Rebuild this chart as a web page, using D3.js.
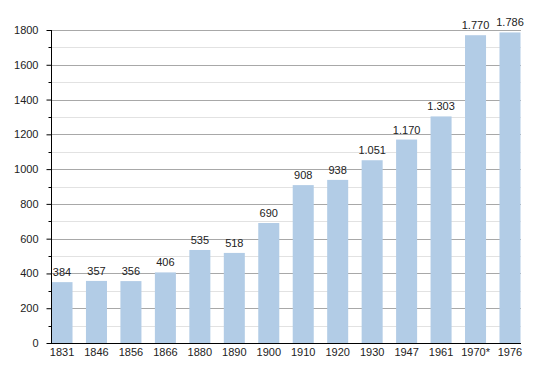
<!DOCTYPE html>
<html>
<head>
<meta charset="utf-8">
<script src="https://cdn.jsdelivr.net/npm/d3@7"></script>
<style>
  body { margin: 0; background: #fff; }
  text { font-family: "Liberation Sans", Arial, sans-serif; fill: #222; }
</style>
</head>
<body>
<div id="chart-container"></div>
<script>
const years = ["1831", "1846", "1856", "1866", "1880", "1890", "1900", "1910", "1920", "1930", "1947", "1961", "1970*", "1976"];
// bar heights as drawn (first bar is drawn lower than its label says)
const barValues = [350, 357, 356, 406, 535, 518, 690, 908, 938, 1051, 1170, 1303, 1770, 1786];
const valueLabels = ["384", "357", "356", "406", "535", "518", "690", "908", "938", "1.051", "1.170", "1.303", "1.770", "1.786"];
const majorTicks = [0, 200, 400, 600, 800, 1000, 1200, 1400, 1600, 1800];
const minorTicks = [100, 300, 500, 700, 900, 1100, 1300, 1500, 1700];

const svgWidth = 550;
const svgHeight = 373;

const svg = d3.select("#chart-container")
    .append("svg")
    .attr("width", svgWidth)
    .attr("height", svgHeight);

const scaleY = d3.scaleLinear()
    .domain([0, 1800])
    .range([343, 30]);

const scaleX = d3.scaleBand()
    .domain(years)
    .range([51.5, 520.5])
    .paddingInner(0.39)
    .paddingOuter(0);

const left = 51, right = 521;

// minor grid
svg.append("g").selectAll("line")
    .data(minorTicks)
    .enter().append("line")
    .attr("x1", left).attr("x2", right)
    .attr("y1", d => Math.round(scaleY(d)) + 0.5)
    .attr("y2", d => Math.round(scaleY(d)) + 0.5)
    .attr("stroke", "#e2e2e2");

// major grid
svg.append("g").selectAll("line")
    .data(majorTicks.filter(d => d > 0))
    .enter().append("line")
    .attr("x1", left).attr("x2", right)
    .attr("y1", d => Math.round(scaleY(d)) + 0.5)
    .attr("y2", d => Math.round(scaleY(d)) + 0.5)
    .attr("stroke", "#a8a8a8");

// bars
svg.selectAll(".bar")
    .data(barValues)
    .enter()
    .append("rect")
    .attr("class", "bar")
    .attr("x", (d, i) => scaleX(years[i]))
    .attr("y", d => scaleY(d))
    .attr("width", scaleX.bandwidth())
    .attr("height", d => scaleY(0) - scaleY(d))
    .attr("fill", "#b2cce6");

// value labels
svg.selectAll(".val")
    .data(barValues)
    .enter()
    .append("text")
    .attr("class", "val")
    .attr("x", (d, i) => scaleX(years[i]) + scaleX.bandwidth() / 2)
    .attr("y", d => scaleY(d) - 6)
    .attr("text-anchor", "middle")
    .attr("font-size", "11px")
    .text((d, i) => valueLabels[i]);

// y axis
const axisY = svg.append("g")
    .attr("transform", `translate(${left + 0.5},0)`)
    .call(d3.axisLeft(scaleY).tickValues(majorTicks).tickSize(5).tickPadding(8).tickFormat(d3.format("d")));
axisY.selectAll("text").attr("font-size", "11px").style("font-family", "Liberation Sans, Arial, sans-serif").attr("fill", "#222");
axisY.selectAll("line, path").attr("stroke", "#000");
axisY.select(".domain").attr("d", `M0,${scaleY(1800)}V${scaleY(0)}`);

svg.append("g")
    .attr("transform", `translate(${left + 0.5},0)`)
    .selectAll("line")
    .data(minorTicks)
    .enter().append("line")
    .attr("x1", -3).attr("x2", 0)
    .attr("y1", d => Math.round(scaleY(d)) + 0.5)
    .attr("y2", d => Math.round(scaleY(d)) + 0.5)
    .attr("stroke", "#000");

// x axis
const axisX = svg.append("g")
    .attr("transform", `translate(0,${scaleY(0) + 0.5})`)
    .call(d3.axisBottom(scaleX).tickSize(0).tickPadding(5));
axisX.select(".domain").attr("d", `M${left},0H${right}`).attr("stroke", "#000");
axisX.selectAll("text").attr("font-size", "11px").style("font-family", "Liberation Sans, Arial, sans-serif").attr("fill", "#222");
</script>
</body>
</html>
